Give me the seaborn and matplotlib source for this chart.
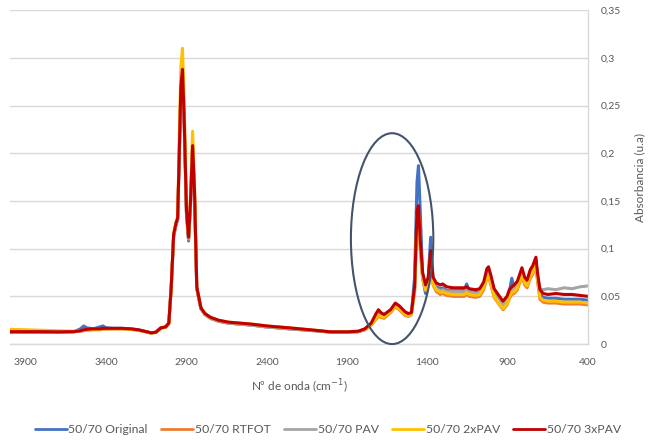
import warnings
warnings.filterwarnings('ignore')

import numpy as np
import pandas as pd
import matplotlib
matplotlib.use('Agg')
import matplotlib.pyplot as plt
from matplotlib.patches import Ellipse
import seaborn as sns

# ---------------------------------------------------------------------------
# Datos leídos del espectro FTIR (nº de onda en cm-1, absorbancia u.a.)
# ---------------------------------------------------------------------------
wavenumber = [
    4000, 3900, 3800, 3700, 3600, 3560, 3540, 3520, 3480, 3440, 3420, 3400, 3350, 3300, 3250, 3200, 3150, 3120, 3090, 3060, 3030, 3010,
    2995, 2980, 2965, 2955, 2945, 2935, 2925, 2915, 2900, 2887, 2875, 2862, 2850, 2836,
    2810, 2785, 2750, 2700, 2640, 2500, 2400, 2260, 2100, 2000, 1900, 1830, 1790,
    1750, 1720, 1705, 1690, 1670, 1630, 1600, 1575, 1540, 1520, 1500,
    1480, 1465, 1456, 1445, 1430, 1412, 1395, 1380, 1365, 1345, 1320, 1305,
    1280, 1240, 1200, 1170, 1156, 1140, 1100, 1075, 1050, 1030, 1020, 1005, 985, 960, 930, 905,
    890, 875, 860, 840, 812, 795, 780, 760, 745, 725, 715, 700, 680, 650, 600, 550, 500, 450, 400,
]

abs_original = [
    0.0125, 0.0125, 0.0125, 0.0125, 0.013, 0.016, 0.019, 0.017, 0.016, 0.018, 0.019, 0.017, 0.0165, 0.0165, 0.016, 0.015, 0.013, 0.0118, 0.0125, 0.017, 0.018, 0.022,
    0.06, 0.113, 0.125, 0.13, 0.195, 0.265, 0.284, 0.235, 0.135, 0.108, 0.145, 0.205, 0.155, 0.058,
    0.037, 0.031, 0.027, 0.024, 0.022, 0.02, 0.018, 0.016, 0.014, 0.0125, 0.0125, 0.013, 0.015,
    0.02, 0.027, 0.03, 0.029, 0.028, 0.034, 0.04, 0.037, 0.031, 0.03, 0.032,
    0.07, 0.17, 0.187, 0.14, 0.07, 0.053, 0.07, 0.112, 0.065, 0.06, 0.058, 0.059,
    0.056, 0.056, 0.056, 0.057, 0.063, 0.056, 0.054, 0.055, 0.062, 0.073, 0.075, 0.066, 0.053, 0.047, 0.04, 0.046,
    0.055, 0.069, 0.058, 0.062, 0.077, 0.066, 0.063, 0.074, 0.079, 0.088, 0.07, 0.052, 0.049, 0.048, 0.048, 0.047, 0.047, 0.047, 0.046,
]

abs_rtfot = [
    0.014, 0.014, 0.0135, 0.013, 0.013, 0.0135, 0.014, 0.0145, 0.015, 0.015, 0.0155, 0.0158, 0.016, 0.016, 0.0155, 0.0145, 0.0128, 0.0115, 0.0122, 0.0165, 0.0175, 0.021,
    0.058, 0.113, 0.126, 0.131, 0.2, 0.27, 0.29, 0.24, 0.138, 0.11, 0.148, 0.21, 0.158, 0.058,
    0.037, 0.031, 0.027, 0.024, 0.022, 0.02, 0.018, 0.016, 0.014, 0.0125, 0.0125, 0.013, 0.015,
    0.02, 0.026, 0.029, 0.028, 0.027, 0.033, 0.039, 0.036, 0.03, 0.029, 0.031,
    0.055, 0.13, 0.135, 0.1, 0.068, 0.056, 0.062, 0.09, 0.062, 0.055, 0.052, 0.053,
    0.051, 0.05, 0.05, 0.05, 0.052, 0.05, 0.049, 0.05, 0.057, 0.069, 0.071, 0.062, 0.049, 0.043, 0.036, 0.041,
    0.048, 0.052, 0.053, 0.057, 0.071, 0.062, 0.059, 0.069, 0.073, 0.082, 0.066, 0.047, 0.044, 0.043, 0.043, 0.042, 0.042, 0.042, 0.041,
]

abs_pav = [
    0.0135, 0.0135, 0.013, 0.0128, 0.013, 0.0138, 0.0148, 0.015, 0.0155, 0.0158, 0.016, 0.016, 0.016, 0.016, 0.0158, 0.0148, 0.0128, 0.0117, 0.0123, 0.0168, 0.0178, 0.0215,
    0.059, 0.114, 0.126, 0.131, 0.198, 0.268, 0.286, 0.238, 0.138, 0.11, 0.148, 0.206, 0.158, 0.059,
    0.037, 0.031, 0.027, 0.024, 0.022, 0.02, 0.018, 0.016, 0.014, 0.0125, 0.0125, 0.013, 0.0155,
    0.021, 0.029, 0.032, 0.03, 0.029, 0.034, 0.041, 0.038, 0.032, 0.03, 0.032,
    0.057, 0.135, 0.14, 0.105, 0.07, 0.058, 0.065, 0.093, 0.064, 0.058, 0.056, 0.057,
    0.055, 0.055, 0.055, 0.055, 0.057, 0.055, 0.053, 0.054, 0.061, 0.074, 0.076, 0.067, 0.054, 0.048, 0.041, 0.046,
    0.053, 0.057, 0.058, 0.062, 0.076, 0.066, 0.063, 0.074, 0.078, 0.087, 0.071, 0.058, 0.057, 0.058, 0.057, 0.059, 0.058, 0.06, 0.061,
]

abs_2xpav = [
    0.0155, 0.015, 0.0145, 0.014, 0.0135, 0.014, 0.0145, 0.015, 0.0155, 0.0155, 0.016, 0.016, 0.016, 0.016, 0.0155, 0.0145, 0.0128, 0.0116, 0.0122, 0.0168, 0.0178, 0.0215,
    0.06, 0.116, 0.128, 0.133, 0.215, 0.29, 0.31, 0.255, 0.145, 0.112, 0.155, 0.223, 0.165, 0.06,
    0.038, 0.032, 0.028, 0.025, 0.023, 0.021, 0.019, 0.017, 0.0145, 0.0128, 0.0128, 0.0135, 0.0155,
    0.02, 0.027, 0.03, 0.029, 0.028, 0.034, 0.04, 0.037, 0.031, 0.03, 0.031,
    0.056, 0.133, 0.14, 0.102, 0.069, 0.057, 0.063, 0.092, 0.063, 0.057, 0.054, 0.055,
    0.053, 0.052, 0.052, 0.052, 0.054, 0.052, 0.051, 0.052, 0.059, 0.07, 0.072, 0.064, 0.05, 0.044, 0.037, 0.042,
    0.05, 0.054, 0.055, 0.059, 0.073, 0.064, 0.061, 0.071, 0.075, 0.084, 0.068, 0.049, 0.046, 0.045, 0.045, 0.044, 0.044, 0.044, 0.043,
]

abs_3xpav = [
    0.013, 0.013, 0.013, 0.0128, 0.013, 0.014, 0.015, 0.0155, 0.016, 0.016, 0.0165, 0.0165, 0.0165, 0.0165, 0.016, 0.015, 0.013, 0.0118, 0.0125, 0.017, 0.018, 0.022,
    0.06, 0.115, 0.127, 0.132, 0.2, 0.27, 0.288, 0.24, 0.14, 0.112, 0.15, 0.208, 0.16, 0.06,
    0.038, 0.032, 0.028, 0.025, 0.023, 0.021, 0.019, 0.017, 0.0145, 0.0128, 0.0128, 0.0135, 0.016,
    0.022, 0.032, 0.036, 0.033, 0.031, 0.036, 0.043, 0.04, 0.034, 0.032, 0.033,
    0.06, 0.14, 0.145, 0.11, 0.075, 0.062, 0.07, 0.098, 0.07, 0.064, 0.062, 0.063,
    0.06, 0.059, 0.059, 0.059, 0.06, 0.058, 0.057, 0.058, 0.065, 0.079, 0.081, 0.072, 0.058, 0.052, 0.045, 0.05,
    0.057, 0.06, 0.062, 0.066, 0.08, 0.07, 0.067, 0.078, 0.082, 0.091, 0.075, 0.057, 0.053, 0.052, 0.053, 0.052, 0.052, 0.051, 0.05,
]

series_names = ['50/70 Original', '50/70 RTFOT', '50/70 PAV', '50/70 2xPAV', '50/70 3xPAV']
series_values = [abs_original, abs_rtfot, abs_pav, abs_2xpav, abs_3xpav]
colors = ['#4472C4', '#ED7D31', '#A5A5A5', '#FFC000', '#C00000']

x_ticks = [3900, 3400, 2900, 2400, 1900, 1400, 900, 400]
y_ticks = [0, 0.05, 0.1, 0.15, 0.2, 0.25, 0.3, 0.35]
y_ticklabels = ['0', '0,05', '0,1', '0,15', '0,2', '0,25', '0,3', '0,35']

df = pd.concat([
    pd.DataFrame({'wn': wavenumber, 'abs': vals, 'serie': name})
    for name, vals in zip(series_names, series_values)
], ignore_index=True)

# ---------------------------------------------------------------------------
# Figura
# ---------------------------------------------------------------------------
sns.set_style('white')
plt.rcParams['font.family'] = ['Lato', 'DejaVu Sans']

fig = plt.figure(figsize=(6.52, 4.40), dpi=100)
ax = fig.add_axes([0.015, 0.218, 0.887, 0.759])

sns.lineplot(data=df, x='wn', y='abs', hue='serie', hue_order=series_names,
             palette=colors, linewidth=2.2, ax=ax, sort=False, estimator=None)

ax.set_xlim(4000, 400)
ax.set_ylim(0, 0.35)
ax.set_xticks(x_ticks)
ax.set_yticks(y_ticks)
ax.set_yticklabels(y_ticklabels)
ax.yaxis.tick_right()
ax.yaxis.set_label_position('right')

ax.grid(axis='y', color='#D9D9D9', linewidth=1)
ax.grid(axis='x', visible=False)
ax.set_axisbelow(True)
for side in ['left', 'top']:
    ax.spines[side].set_visible(False)
for side in ['bottom', 'right']:
    ax.spines[side].set_color('#D9D9D9')
    ax.spines[side].set_linewidth(1)

ax.tick_params(axis='both', length=0, labelsize=7.5, labelcolor='#595959')
ax.tick_params(axis='x', pad=10)
ax.tick_params(axis='y', pad=9)

ax.set_xlabel(r'Nº de onda (cm$^{-1}$)', fontsize=8.5, color='#595959', labelpad=8)
ax.set_ylabel('Absorbancia (u.a)', fontsize=8.5, color='#595959', labelpad=10)

# elipse que resalta la zona 1900-1350
ell = Ellipse((1620, 0.1105), width=513, height=0.221, facecolor='none',
              edgecolor='#44546A', linewidth=1.5, zorder=5, clip_on=False)
ax.add_patch(ell)

sns.move_legend(ax, 'center', bbox_to_anchor=(0.503, 0.023), bbox_transform=fig.transFigure,
                ncol=5, frameon=False, title=None, fontsize=8.8,
                handlelength=2.6, columnspacing=1.1, handletextpad=0.15)
for txt in ax.get_legend().get_texts():
    txt.set_color('#595959')
for line in ax.get_legend().get_lines():
    line.set_linewidth(2)

fig.savefig('out.png', dpi=100)
